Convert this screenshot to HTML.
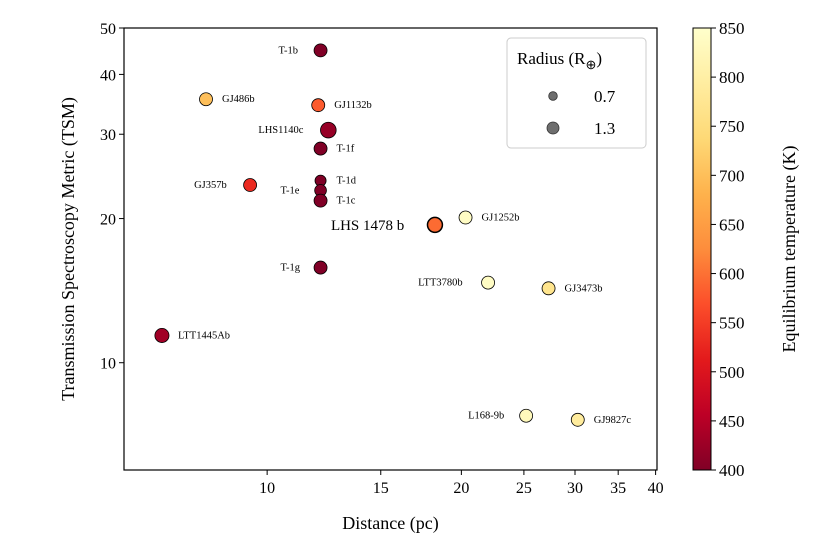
<!DOCTYPE html>
<html><head><meta charset="utf-8"><style>
body{margin:0;background:#fff}
svg{font-family:"Liberation Serif",serif}
</style></head><body>
<svg id="chart" width="830" height="554">
<defs>
<linearGradient id="cmap" x1="0" y1="1" x2="0" y2="0">
<stop offset="0" stop-color="#800026"/><stop offset="0.125" stop-color="#bd0026"/>
<stop offset="0.25" stop-color="#e31a1c"/><stop offset="0.375" stop-color="#fc4e2a"/>
<stop offset="0.5" stop-color="#fd8d3c"/><stop offset="0.625" stop-color="#feb24c"/>
<stop offset="0.75" stop-color="#fed976"/><stop offset="0.875" stop-color="#ffeda0"/>
<stop offset="1" stop-color="#ffffcc"/>
</linearGradient>
</defs>
<g id="plot"></g>
<text x="517" y="64" font-size="17">Radius (R<tspan dy="5" font-size="13">⊕</tspan><tspan dy="-5">)</tspan></text>
</svg>
<script>
const names=["T-1b","GJ486b","GJ1132b","LHS1140c","T-1f","GJ357b","T-1d","T-1e","T-1c","LHS 1478 b","GJ1252b","T-1g","LTT3780b","GJ3473b","LTT1445Ab","L168-9b","GJ9827c"];
const distances=[12.1,8.04,12.0,12.44,12.1,9.41,12.1,12.1,12.1,18.2,20.3,12.1,22.0,27.3,6.87,25.2,30.3];
const tsm=[44.9,35.5,34.5,30.6,28.0,23.5,24.0,22.9,21.8,19.4,20.1,15.8,14.7,14.3,11.4,7.75,7.6];
const temps=[400,700,580,420,400,530,400,400,400,595,840,400,840,770,430,830,790];
const radii=[1.1,1.1,1.1,1.6,1.1,1.1,0.8,0.9,1.1,1.45,1.1,1.1,1.1,1.1,1.3,1.1,1.1];
const labelDx=[-42,16,16,-70,16,-56,16,-40,16,-104,16,-40,-70,16,16,-58,16];
const labelDy=[3,3,3,3,3,3,3,3,3,3,3,3,3,3,3,3,3];
const xTicks=[10,15,20,25,30,35,40];
const yTicks=[10,20,30,40,50];
const cTicks=[400,450,500,550,600,650,700,750,800,850];

const X0=124,X1=657,Y0=28,Y1=470,xmin=6,xmax=40.2,ymin=5.97,ymax=50;
const xs=v=>X0+(Math.log10(v)-Math.log10(xmin))/(Math.log10(xmax)-Math.log10(xmin))*(X1-X0);
const ys=v=>Y1-(Math.log10(v)-Math.log10(ymin))/(Math.log10(ymax)-Math.log10(ymin))*(Y1-Y0);
const cs=v=>470-(v-400)/450*442;
const stops=[[0,"#800026"],[.125,"#bd0026"],[.25,"#e31a1c"],[.375,"#fc4e2a"],[.5,"#fd8d3c"],[.625,"#feb24c"],[.75,"#fed976"],[.875,"#ffeda0"],[1,"#ffffcc"]];
function hex(h){return [1,3,5].map(i=>parseInt(h.substr(i,2),16))}
function cmap(t){let f=Math.max(0,Math.min(1,(t-400)/450));for(let i=0;i<stops.length-1;i++){if(f<=stops[i+1][0]){const a=hex(stops[i][1]),b=hex(stops[i+1][1]),u=(f-stops[i][0])/(stops[i+1][0]-stops[i][0]);return "rgb("+a.map((c,k)=>Math.round(c+(b[k]-c)*u)).join(",")+")";}}return stops[8][1];}
const NS="http://www.w3.org/2000/svg";
const g=document.getElementById("plot");
function el(t,a,txt){const e=document.createElementNS(NS,t);for(const k in a)e.setAttribute(k,a[k]);if(txt!==undefined)e.textContent=txt;g.appendChild(e);return e;}

let fr=el("rect",{x:X0,y:Y0,width:X1-X0,height:Y1-Y0,fill:"none",stroke:"#000","stroke-width":1.2});


xTicks.forEach(v=>{const x=xs(v);
 let l=el("line",{x1:x,x2:x,y1:Y1,y2:Y1+5,stroke:"#000"});
 
 
 let t=el("text",{x:x,y:Y1+23,"text-anchor":"middle","font-size":16},v);
 
 });
yTicks.forEach(v=>{const y=ys(v);
 let l=el("line",{x1:X0-5,x2:X0,y1:y,y2:y,stroke:"#000"});
 
 
 let t=el("text",{x:X0-8,y:y+6,"text-anchor":"end","font-size":16},v);
 
 });
let xt=el("text",{x:(X0+X1)/2,y:529,"text-anchor":"middle","font-size":18},"Distance (pc)");


let yt=el("text",{x:0,y:0,transform:"translate(74,249) rotate(-90)","text-anchor":"middle","font-size":18},"Transmission Spectroscopy Metric (TSM)");



names.forEach((n,i)=>{const x=xs(distances[i]),y=ys(tsm[i]);
 let c=el("circle",{cx:x,cy:y,r:6.2*Math.sqrt(radii[i]),fill:cmap(temps[i]),stroke:"#000","stroke-width":(i===9?1.5:0.8)});
 
 
 let t=el("text",{x:x+labelDx[i],y:y+labelDy[i]+(i===9?2:0),"font-size":(i===9?15:10.5)},n);
 
 });

let lg=el("rect",{x:507,y:38,width:139,height:110,rx:4,fill:"#fff",stroke:"#ccc"});


[[0.7,96,4.3],[1.3,128,6]].forEach(([r,y,pr])=>{
 let c=el("circle",{cx:553,cy:y,r:pr,fill:"#6e6e6e",stroke:"#333","stroke-width":0.8});
 
 
 let t=el("text",{x:594,y:y+6,"font-size":17},r);
 
 });

let cb=el("rect",{x:693,y:28,width:18,height:442,fill:"url(#cmap)",stroke:"#000","stroke-width":1});


cTicks.forEach(v=>{const y=cs(v);
 let l=el("line",{x1:711,x2:716,y1:y,y2:y,stroke:"#000"});
 
 
 let t=el("text",{x:719,y:y+6,"font-size":17},v);
 
 });
let ct=el("text",{x:0,y:0,transform:"translate(795,249) rotate(-90)","text-anchor":"middle","font-size":18},"Equilibrium temperature (K)");


</script>
</body></html>
